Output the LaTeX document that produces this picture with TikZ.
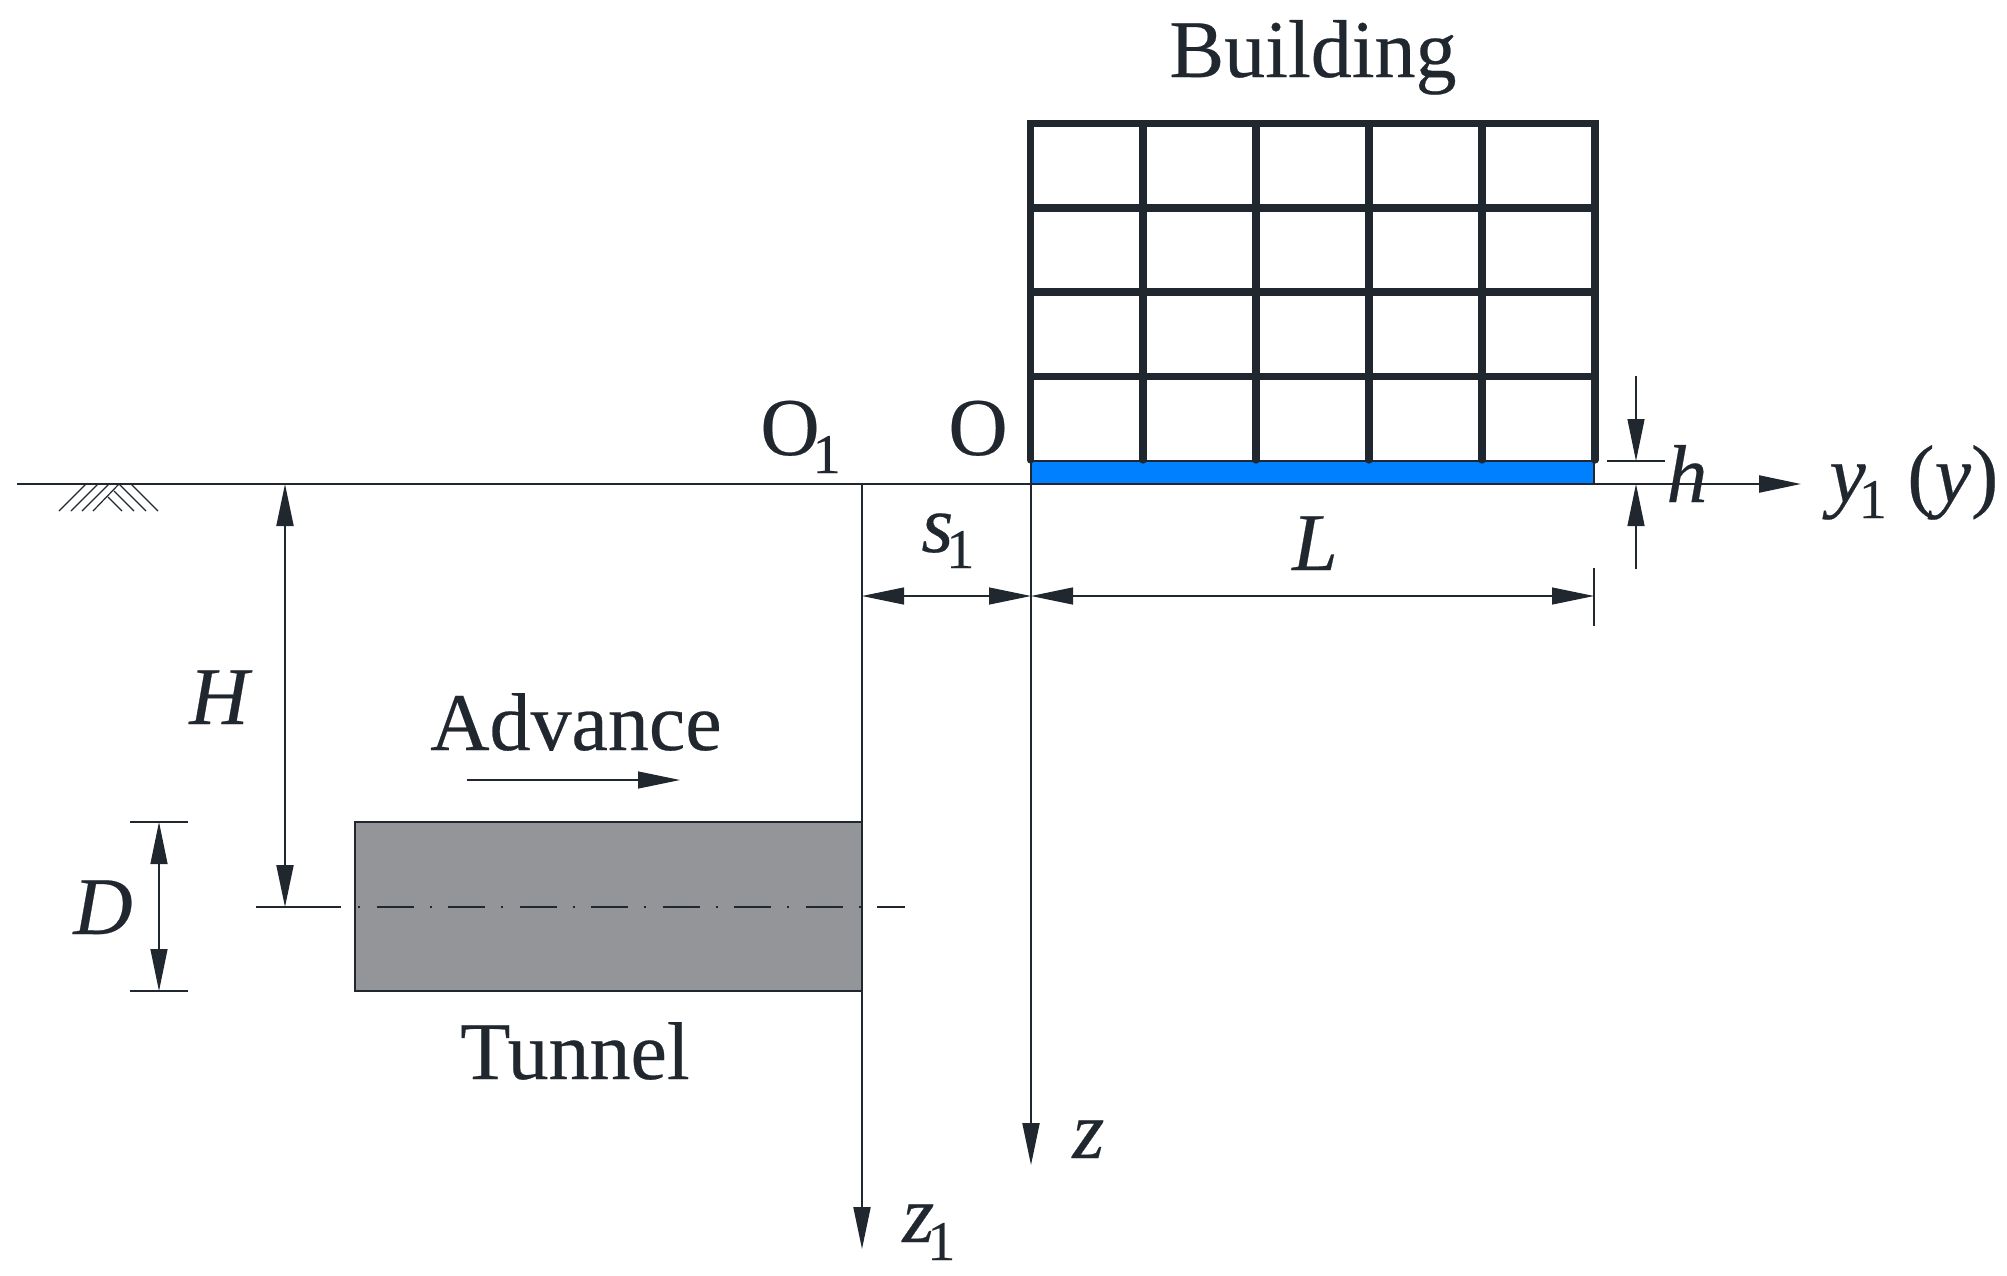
\documentclass[tikz,border=0pt]{standalone}
\usepackage[svgnames]{xcolor}
\usepackage{fontspec}
\setmainfont{Liberation Serif}[FakeBold=0.3]
\usetikzlibrary{arrows.meta}
\definecolor{Ink}{HTML}{20272E}
\definecolor{Slab}{HTML}{007FFF}
\definecolor{Bore}{HTML}{939598}
\pgfdeclarelayer{edgelayer}
\pgfdeclarelayer{nodelayer}
\pgfsetlayers{edgelayer,nodelayer,main}
\newcommand{\subone}[1][-9pt]{\hspace{-3.5pt}\raisebox{#1}{\fontsize{28}{28}\selectfont 1}}
\tikzstyle{none}=[inner sep=0pt,minimum size=0pt]
\tikzstyle{word}=[inner sep=0pt,anchor=base,text=Ink,font=\fontsize{41}{41}\selectfont]
\tikzstyle{wordw}=[style=word,anchor=base west]
\tikzstyle{letter}=[style=word,font=\fontsize{41}{41}\selectfont\itshape]
\tikzstyle{letterw}=[style=letter,anchor=base west]
\tikzstyle{post}=[-,draw=Ink,line width=3.6pt,line cap=round]
\tikzstyle{beam}=[-,draw=Ink,line width=3.6pt,shorten <=-1.8pt,shorten >=-1.8pt]
\tikzstyle{thin}=[-,draw=Ink,line width=0.6pt]
\tikzstyle{axis}=[-,draw=Ink,line width=1pt]
\tikzstyle{tip}=[-{Triangle[length=21pt,width=8.5pt]},draw=Ink,fill=Ink,line width=1pt]
\tikzstyle{dim}=[{Triangle[length=21pt,width=8.5pt]}-{Triangle[length=21pt,width=8.5pt]},draw=Ink,fill=Ink,line width=0.6pt]
\tikzstyle{slab}=[fill=Slab,draw=Ink,line width=0.6pt]
\tikzstyle{bore}=[fill=Bore,draw=Ink,line width=0.7pt]
\begin{document}
\begin{tikzpicture}[x=0.5pt,y=-0.5pt]
	\useasboundingbox (0,0) rectangle (2007,1275);
	\begin{pgfonlayer}{nodelayer}
		% building frame
		\node [style=none] (0) at (1030.5, 123.5) {};
		\node [style=none] (1) at (1595, 123.5) {};
		\node [style=none] (2) at (1030.5, 208) {};
		\node [style=none] (3) at (1595, 208) {};
		\node [style=none] (4) at (1030.5, 292) {};
		\node [style=none] (5) at (1595, 292) {};
		\node [style=none] (6) at (1030.5, 376.5) {};
		\node [style=none] (7) at (1595, 376.5) {};
		\node [style=none] (8) at (1030.5, 460) {};
		\node [style=none] (9) at (1143, 123.5) {};
		\node [style=none] (10) at (1143, 460) {};
		\node [style=none] (11) at (1256, 123.5) {};
		\node [style=none] (12) at (1256, 460) {};
		\node [style=none] (13) at (1369, 123.5) {};
		\node [style=none] (14) at (1369, 460) {};
		\node [style=none] (15) at (1482, 123.5) {};
		\node [style=none] (16) at (1482, 460) {};
		\node [style=none] (17) at (1595, 460) {};
		\node [style=none] (18) at (1594, 484) {};
		\node [style=none] (65) at (1031, 461) {};
		% ground and axes
		\node [style=none] (19) at (17, 484) {};
		\node [style=none] (20) at (1801, 484) {};
		\node [style=none] (66) at (632, 484) {};
		\node [style=none] (21) at (862, 484) {};
		\node [style=none] (22) at (862, 1249) {};
		\node [style=none] (23) at (1031, 484) {};
		\node [style=none] (24) at (1031, 1165) {};
		% dimensions
		\node [style=none] (25) at (285, 484) {};
		\node [style=none] (26) at (285, 907) {};
		\node [style=none] (27) at (256, 907) {};
		\node [style=none] (28) at (341, 907) {};
		\node [style=none] (29) at (358, 907) {};
		\node [style=none] (30) at (905, 907) {};
		\node [style=none] (31) at (159, 822) {};
		\node [style=none] (32) at (159, 991) {};
		\node [style=none] (33) at (130, 822) {};
		\node [style=none] (34) at (188, 822) {};
		\node [style=none] (35) at (130, 991) {};
		\node [style=none] (36) at (188, 991) {};
		\node [style=none] (37) at (862, 596) {};
		\node [style=none] (38) at (1031, 596) {};
		\node [style=none] (39) at (1594, 596) {};
		\node [style=none] (40) at (1594, 568) {};
		\node [style=none] (41) at (1594, 626) {};
		\node [style=none] (42) at (1636, 376) {};
		\node [style=none] (43) at (1636, 461) {};
		\node [style=none] (44) at (1636, 569) {};
		\node [style=none] (45) at (1636, 484) {};
		\node [style=none] (46) at (1607, 461) {};
		\node [style=none] (47) at (1665, 461) {};
		\node [style=none] (48) at (467, 780) {};
		\node [style=none] (49) at (680, 780) {};
		\node [style=none] (50) at (355, 822) {};
		\node [style=none] (51) at (862, 991) {};
		% labels
		\node [style=word] (52) at (1313, 77) {Building};
		\node [style=word] (53) at (576, 750) {Advance};
		\node [style=word] (54) at (575, 1079) {Tunnel};
		\node [style=wordw] (55) at (760, 455) {O\subone};
		\node [style=wordw] (56) at (948, 455) {O};
		\node [style=letterw] (57) at (921, 552) {s\upshape\subone[-8pt]};
		\node [style=letter] (58) at (1315, 570) {L};
		\node [style=letter] (59) at (219, 724) {H};
		\node [style=letterw] (60) at (73, 934) {D};
		\node [style=letterw] (61) at (1666, 502) {h};
		\node [style=letterw] (62) at (1829, 502) {y\upshape\subone[-8pt] (\itshape y\upshape)};
		\node [style=letterw] (63) at (1072, 1158) {z};
		\node [style=letterw] (64) at (902, 1242) {z\upshape\subone[-9pt]};
	\end{pgfonlayer}
	\begin{pgfonlayer}{edgelayer}
		\draw [style=bore] (50.center) rectangle (51.center);
		\draw [style=slab] (65.center) rectangle (18.center);
		\draw [style=beam] (0.center) to (1.center);
		\draw [style=beam] (2.center) to (3.center);
		\draw [style=beam] (4.center) to (5.center);
		\draw [style=beam] (6.center) to (7.center);
		\draw [style=post] (0.center) to (8.center);
		\draw [style=post] (9.center) to (10.center);
		\draw [style=post] (11.center) to (12.center);
		\draw [style=post] (13.center) to (14.center);
		\draw [style=post] (15.center) to (16.center);
		\draw [style=post] (1.center) to (17.center);
		\draw [style=thin,line width=0.7pt] (19.center) to (66.center);
		\draw [style=tip,line width=1.15pt] (66.center) to (20.center);
		\draw [style=tip] (21.center) to (22.center);
		\draw [style=tip] (23.center) to (24.center);
		\draw [style=dim,line width=1pt] (25.center) to (26.center);
		\draw [style=axis] (27.center) to (28.center);
		\draw [style=axis,dash pattern=on 1pt off 8.25pt on 18.5pt off 8pt] (29.center) to (30.center);
		\draw [style=dim] (31.center) to (32.center);
		\draw [style=thin] (33.center) to (34.center);
		\draw [style=thin] (35.center) to (36.center);
		\draw [style=dim] (37.center) to (38.center);
		\draw [style=dim] (38.center) to (39.center);
		\draw [style=thin] (40.center) to (41.center);
		\draw [style=tip,line width=0.6pt] (42.center) to (43.center);
		\draw [style=tip,line width=0.6pt] (44.center) to (45.center);
		\draw [style=thin] (46.center) to (47.center);
		\draw [style=tip,line width=0.6pt] (48.center) to (49.center);
		% ground hatching
		\draw [style=thin] (86,484) -- (59,511) (98,484) -- (71,511) (109,484) -- (82,511) (119,484) -- (93,511);
		\draw [style=thin] (131,484) -- (158,511) (119,484) -- (146,511) (114,491) -- (134,511) (108,497) -- (122,511);
	\end{pgfonlayer}
\end{tikzpicture}
\end{document}
